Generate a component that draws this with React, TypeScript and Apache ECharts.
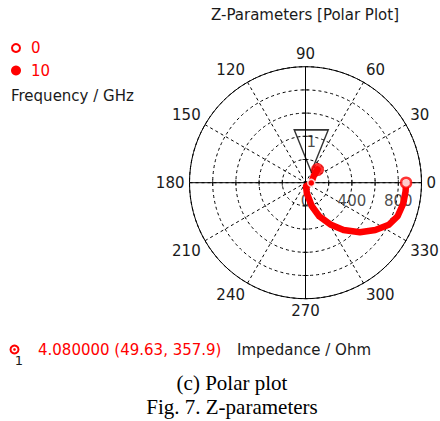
import React, { useEffect, useRef } from "react";
import * as echarts from "echarts";

const chartTitle = "Z-Parameters [Polar Plot]";
const frequencyLegendLabels = ["0", "10"];
const frequencyAxisName = "Frequency / GHz";
const impedanceAxisName = "Impedance / Ohm";
const captionLines = ["(c) Polar plot", "Fig. 7. Z-parameters"];

// Z trace, |Z| in Ohm and angle in degrees (0 GHz -> 10 GHz)
const impedanceMagnitude = [867, 866, 862, 845, 805, 727, 634, 523, 424, 315, 208, 94, 30, 49.63, 93, 154];
const impedanceAngle = [0, 355, 348, 340, 333.2, 325.9, 317.7, 308.8, 301.2, 292.4, 285, 277.4, 278, 357.9, 40, 47.6];

// marker 1
const markerName = "1";
const markerFrequency = "4.080000";
const markerMagnitude = 49.63;
const markerAngle = 357.9;

const radiusTickValues = [200, 400, 600, 800];
const radiusLabelValues = [0, 400, 800];
const crossAngles = [0, 90, 180, 270];

const RED = "#ff0000";
const DARK = "#1a1a1a";
const SANS = "DejaVu Sans";
const SERIF = "Liberation Serif";
const FS = 15;

export default function App() {
  const ref = useRef<HTMLDivElement>(null);

  useEffect(() => {
    if (!ref.current) return;
    const chart = echarts.init(ref.current, undefined, { renderer: "svg" });

    const trace = impedanceMagnitude.map((r, i) => [r, impedanceAngle[i]]);
    const last = trace.length - 1;

    const ticksH: number[][] = [];
    const ticksV: number[][] = [];
    crossAngles.forEach((a) => {
      radiusTickValues.forEach((r) => {
        if (a === 0 || a === 180) ticksH.push([r, a]);
        else ticksV.push([r, a]);
      });
    });

    const option: any = {
      animation: false,
      polar: { center: [305.5, 182.7], radius: 116 },
      angleAxis: {
        type: "value",
        min: 0,
        max: 360,
        interval: 30,
        startAngle: 0,
        clockwise: false,
        axisLine: { lineStyle: { color: "#000", width: 1 } },
        axisTick: { show: false },
        axisLabel: {
          margin: 5,
          color: DARK,
          fontSize: FS,
          fontFamily: SANS,
          formatter: (v: number) => (v === 360 ? "" : String(v)),
        },
        splitLine: { lineStyle: { color: "#000", width: 1, type: [3, 3] } },
      },
      radiusAxis: {
        type: "value",
        min: 0,
        max: 1000,
        interval: 200,
        axisLine: { show: false },
        axisTick: { show: false },
        axisLabel: { show: false },
        splitLine: { lineStyle: { color: "#000", width: 1, type: [3, 3] } },
      },
      series: [
        {
          type: "line",
          coordinateSystem: "polar",
          data: [[1000, 0], [1000, 180]],
          symbol: "none",
          silent: true,
          lineStyle: { color: "#000", width: 1 },
          z: 2,
        },
        {
          type: "line",
          coordinateSystem: "polar",
          data: [[1000, 90], [1000, 270]],
          symbol: "none",
          silent: true,
          lineStyle: { color: "#000", width: 1 },
          z: 2,
        },
        {
          type: "scatter",
          coordinateSystem: "polar",
          data: ticksH,
          symbol: "rect",
          symbolSize: [1, 6],
          itemStyle: { color: "#000" },
          silent: true,
          z: 2,
        },
        {
          type: "scatter",
          coordinateSystem: "polar",
          data: ticksV,
          symbol: "rect",
          symbolSize: [6, 1],
          itemStyle: { color: "#000" },
          silent: true,
          z: 2,
        },
        {
          type: "scatter",
          coordinateSystem: "polar",
          data: radiusLabelValues.map((r) => [r, 0]),
          symbol: "circle",
          symbolSize: 1,
          itemStyle: { color: "rgba(0,0,0,0)" },
          label: {
            show: true,
            position: "bottom",
            distance: 10,
            color: DARK,
            fontSize: FS,
            fontFamily: SANS,
            formatter: (p: any) => String(p.value[0]),
          },
          silent: true,
          z: 2,
        },
        {
          type: "line",
          coordinateSystem: "polar",
          data: trace,
          symbol: "none",
          lineStyle: { color: RED, width: 6.5, cap: "round", join: "round" },
          z: 5,
        },
        {
          type: "scatter",
          coordinateSystem: "polar",
          data: [trace[0]],
          symbol: "circle",
          symbolSize: 10,
          itemStyle: { color: "#fff", borderColor: RED, borderWidth: 2.5 },
          z: 6,
        },
        {
          type: "scatter",
          coordinateSystem: "polar",
          data: [trace[last]],
          symbol: "circle",
          symbolSize: 13,
          itemStyle: { color: RED },
          z: 6,
        },
        {
          type: "scatter",
          coordinateSystem: "polar",
          data: [[markerMagnitude, markerAngle]],
          symbol: "circle",
          symbolSize: 7,
          itemStyle: { color: RED, borderColor: "#fff", borderWidth: 1.5 },
          z: 7,
        },
        {
          type: "scatter",
          coordinateSystem: "polar",
          data: [[markerMagnitude, markerAngle]],
          symbol: "triangle",
          symbolRotate: 180,
          symbolSize: [34, 42],
          symbolOffset: [0, -32],
          itemStyle: { color: "rgba(0,0,0,0)", borderColor: "#000", borderWidth: 1.5 },
          z: 4,
        },
        {
          type: "scatter",
          coordinateSystem: "polar",
          data: [[markerMagnitude, markerAngle]],
          symbol: "circle",
          symbolSize: 1,
          itemStyle: { color: "rgba(0,0,0,0)" },
          label: {
            show: true,
            position: "inside",
            offset: [0, -41],
            color: DARK,
            fontSize: FS,
            fontFamily: SANS,
            formatter: markerName,
          },
          z: 8,
        },
      ],
      graphic: [
        {
          type: "text",
          style: {
            x: 305,
            y: 15,
            text: chartTitle,
            fill: DARK,
            font: `${FS}px ${SANS}`,
            align: "center",
            verticalAlign: "middle",
          },
        },
        { type: "circle", shape: { cx: 16, cy: 48, r: 4 }, style: { fill: "#fff", stroke: RED, lineWidth: 2 } },
        {
          type: "text",
          style: { x: 31, y: 48, text: frequencyLegendLabels[0], fill: RED, font: `${FS}px ${SANS}`, verticalAlign: "middle" },
        },
        { type: "circle", shape: { cx: 16, cy: 70.5, r: 5 }, style: { fill: RED } },
        {
          type: "text",
          style: { x: 31, y: 71, text: frequencyLegendLabels[1], fill: RED, font: `${FS}px ${SANS}`, verticalAlign: "middle" },
        },
        {
          type: "text",
          style: { x: 11, y: 95.5, text: frequencyAxisName, fill: DARK, font: `${FS}px ${SANS}`, verticalAlign: "middle" },
        },
        { type: "circle", shape: { cx: 14.5, cy: 349.5, r: 4 }, style: { fill: "#fff", stroke: RED, lineWidth: 2 } },
        { type: "circle", shape: { cx: 14.5, cy: 349.5, r: 1.3 }, style: { fill: RED } },
        {
          type: "text",
          style: { x: 19, y: 360, text: markerName, fill: DARK, font: `13px ${SANS}`, align: "center", verticalAlign: "middle" },
        },
        {
          type: "text",
          style: {
            x: 38,
            y: 350,
            text: `${markerFrequency} (${markerMagnitude}, ${markerAngle})`,
            fill: RED,
            font: `${FS}px ${SANS}`,
            verticalAlign: "middle",
          },
        },
        {
          type: "text",
          style: { x: 237, y: 350, text: impedanceAxisName, fill: DARK, font: `${FS}px ${SANS}`, verticalAlign: "middle" },
        },
        {
          type: "text",
          style: { x: 232, y: 383, text: captionLines[0], fill: "#000", font: `21px ${SERIF}`, align: "center", verticalAlign: "middle" },
        },
        {
          type: "text",
          style: { x: 232, y: 407, text: captionLines[1], fill: "#000", font: `21px ${SERIF}`, align: "center", verticalAlign: "middle" },
        },
      ],
    };

    chart.setOption(option);
    return () => chart.dispose();
  }, []);

  return (
    <div
      ref={ref}
      style={{ position: "absolute", left: 0, top: 0, width: 440, height: 421, background: "#fff" }}
    />
  );
}
